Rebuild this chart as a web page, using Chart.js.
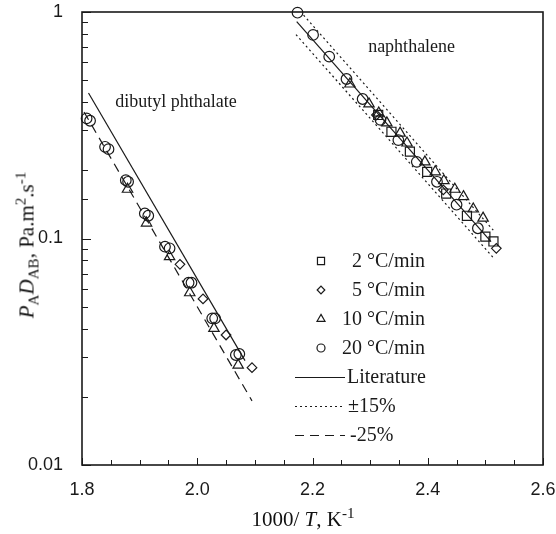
<!DOCTYPE html>
<html><head><meta charset="utf-8">
<script src="https://cdn.jsdelivr.net/npm/chart.js@4/dist/chart.umd.min.js"></script>
<style>
html,body{margin:0;padding:0;background:#fff;}
#wrap{position:relative;width:556px;height:534px;overflow:hidden;}
canvas{position:absolute;left:0;top:0;}
.t{position:absolute;font-family:"Liberation Serif","Times New Roman",serif;color:#111;font-size:21px;white-space:nowrap;line-height:1;}
.t sub{font-size:0.72em;position:relative;top:0.3em;vertical-align:baseline;}
.t sup{font-size:0.72em;position:relative;top:-0.5em;vertical-align:baseline;}
#xt{left:303px;top:519px;transform:translate(-50%,-50%);}
#yt{left:27px;top:245px;transform:translate(-50%,-50%) rotate(-90deg);}
</style></head><body>
<div id="wrap">
<canvas id="c" width="556" height="534"></canvas>
<div class="t" id="xt">1000/ <i>T</i>, K<sup>-1</sup></div>
<div class="t" id="yt"><i>P</i><sub>A</sub><i>D</i><sub>AB</sub>, Pa.m<sup>2</sup>.s<sup>-1</sup></div>
</div>
<script>
// ---- tick labels & text ----
const xTickLabels = ['1.8','2.0','2.2','2.4','2.6'];
const yTickLabels = ['0.01','0.1','1'];
const legendLabels = ['2 °C/min','5 °C/min','10 °C/min','20 °C/min','Literature','±15%','-25%'];
const compoundLabels = ['naphthalene','dibutyl phthalate'];
const compoundLabelX = [2.372, 1.963];
const compoundLabelY = [0.70, 0.40];

// ---- naphthalene data ----
const naph2X  = [2.314,2.337,2.369,2.399,2.432,2.468,2.500,2.514];
const naph2Y  = [0.351,0.296,0.242,0.197,0.158,0.126,0.102,0.097];
const naph5X  = [2.311,2.427,2.519];
const naph5Y  = [0.351,0.164,0.0905];
const naph10X = [2.265,2.298,2.315,2.329,2.352,2.364,2.395,2.413,2.428,2.447,2.462,2.479,2.496];
const naph10Y = [0.481,0.393,0.358,0.324,0.292,0.264,0.218,0.197,0.180,0.165,0.153,0.135,0.123];
const naph20X = [2.174,2.201,2.229,2.259,2.287,2.318,2.349,2.381,2.416,2.450,2.487];
const naph20Y = [0.993,0.792,0.635,0.506,0.413,0.334,0.272,0.218,0.178,0.141,0.111];

// ---- dibutyl phthalate data ----
const dbp5X  = [1.970,2.010,2.050,2.095];
const dbp5Y  = [0.0769,0.0541,0.0375,0.0269];
const dbp10X = [1.879,1.912,1.952,1.987,2.029,2.071];
const dbp10Y = [0.165,0.117,0.0831,0.0576,0.0401,0.0276];
const dbp20X = [1.808,1.814,1.840,1.846,1.876,1.880,1.909,1.915,1.944,1.952,1.985,1.990,2.026,2.031,2.067,2.073];
const dbp20Y = [0.339,0.331,0.254,0.248,0.181,0.178,0.129,0.126,0.092,0.0905,0.0638,0.0638,0.0444,0.0444,0.0306,0.0309];

// ---- lines ----
const litNaphX = [2.1726, 2.5098];  const litNaphY = [0.906, 0.0969];
const litDbpX  = [1.8113, 2.0829];  const litDbpY  = [0.439, 0.0289];
const upNaphX  = [2.1845, 2.5137];  const upNaphY  = [0.969, 0.1088];
const loNaphX  = [2.1714, 2.5155];  const loNaphY  = [0.795, 0.0814];
const dashDbpX = [1.8035, 2.0950];  const dashDbpY = [0.362, 0.0192];

const xy = (xs, ys) => xs.map((x, i) => ({x: x, y: ys[i]}));
const INK = '#1a1a1a';

function pts(label, data, style, r){
  return {type:'scatter', label, data, pointStyle:style, pointRadius:r, pointHoverRadius:r,
    pointBorderColor:INK, pointBackgroundColor:'rgba(0,0,0,0)', pointBorderWidth:1.2,
    showLine:false, clip:10};
}
function ln(label, data, dash){
  return {type:'line', label, data, borderColor:INK, borderWidth:1.2, borderDash:dash,
    pointRadius:0, showLine:true, fill:false, tension:0};
}

const datasets = [
  pts(legendLabels[0], xy(naph2X, naph2Y), 'rect', 6.4),
  pts(legendLabels[1], xy(naph5X, naph5Y).concat(xy(dbp5X, dbp5Y)), 'rectRot', 4.8),
  pts(legendLabels[2], xy(naph10X, naph10Y).concat(xy(dbp10X, dbp10Y)), 'triangle', 6),
  pts(legendLabels[3], xy(naph20X, naph20Y).concat(xy(dbp20X, dbp20Y)), 'circle', 5.3),
  ln(legendLabels[4], xy(litNaphX, litNaphY), []),
  ln(legendLabels[4], xy(litDbpX, litDbpY), []),
  ln(legendLabels[5], xy(upNaphX, upNaphY), [2,3]),
  ln(legendLabels[5], xy(loNaphX, loNaphY), [2,3]),
  ln(legendLabels[6], xy(dashDbpX, dashDbpY), [9,6])
];

const isMajorX = v => Math.abs(v*5 - Math.round(v*5)) < 1e-6;
const isMajorY = v => Math.abs(Math.log10(v) - Math.round(Math.log10(v))) < 1e-6;

const decor = {
  id:'decor',
  afterDraw(chart){
    const {ctx, chartArea:a, scales:{x, y}} = chart;
    ctx.save();
    ctx.strokeStyle = INK; ctx.lineWidth = 1;
    ctx.beginPath();
    x.ticks.forEach(t => {
      const px = Math.round(x.getPixelForValue(t.value)) + 0.5;
      const len = isMajorX(t.value) ? 7 : 5;
      ctx.moveTo(px, a.bottom); ctx.lineTo(px, a.bottom - len);
    });
    y.ticks.forEach(t => {
      const py = Math.round(y.getPixelForValue(t.value)) + 0.5;
      const len = isMajorY(t.value) ? 9 : 6;
      ctx.moveTo(a.left, py); ctx.lineTo(a.left + len, py);
    });
    ctx.stroke();
    ctx.lineWidth = 1.6;
    ctx.strokeRect(a.left, a.top, a.right - a.left, a.bottom - a.top);

    // compound annotations
    ctx.fillStyle = INK;
    ctx.font = '18px "Liberation Serif", serif';
    ctx.textAlign = 'center'; ctx.textBaseline = 'middle';
    compoundLabels.forEach((s, i) => {
      ctx.fillText(s, x.getPixelForValue(compoundLabelX[i]), y.getPixelForValue(compoundLabelY[i]));
    });

    // legend
    const rowY0 = 261, rowDY = 29, markX = 321, lineX0 = 295, lineX1 = 345;
    const textX = [352, 352, 342, 342, 347, 348, 350];
    const legRadius = [5, 3.8, 4.6, 4];
    ctx.font = '20px "Liberation Serif", serif';
    ctx.textAlign = 'left';
    const firstIdx = [0,1,2,3,4,6,8];
    legendLabels.forEach((lab, i) => {
      const ry = rowY0 + i*rowDY;
      const ds = datasets[firstIdx[i]];
      if (i < 4) {
        ctx.save();
        ctx.strokeStyle = INK; ctx.fillStyle = 'rgba(0,0,0,0)'; ctx.lineWidth = 1.2;
        Chart.helpers.drawPoint(ctx, {pointStyle: ds.pointStyle, radius: legRadius[i], rotation: 0, borderWidth: 1.2}, markX, ry);
        ctx.restore();
      } else {
        ctx.save();
        ctx.strokeStyle = INK; ctx.lineWidth = 1.2; ctx.setLineDash(ds.borderDash);
        ctx.beginPath(); ctx.moveTo(lineX0, ry + 0.5); ctx.lineTo(lineX1, ry + 0.5); ctx.stroke();
        ctx.restore();
      }
      ctx.fillStyle = INK;
      ctx.fillText(lab, textX[i], ry + 1);
    });
    ctx.restore();
  }
};

Chart.defaults.font.family = '"Liberation Sans", Arial, sans-serif';
Chart.defaults.color = INK;

new Chart(document.getElementById('c'), {
  type: 'scatter',
  data: { datasets },
  options: {
    responsive: false, animation: false, devicePixelRatio: 1,
    layout: { padding: { left: 0, right: 13, top: 12, bottom: 0 } },
    plugins: { legend: { display: false }, tooltip: { enabled: false } },
    scales: {
      x: {
        type: 'linear', min: 1.8, max: 2.6,
        grid: { display: false }, border: { display: false },
        ticks: {
          stepSize: 0.05, autoSkip: false, maxRotation: 0, padding: 6,
          font: { size: 18 },
          callback: v => isMajorX(v) ? xTickLabels[Math.round((v - 1.8) / 0.2)] : ''
        },
        afterFit: s => { s.height = 69; s.paddingLeft = 0; s.paddingRight = 0; }
      },
      y: {
        type: 'logarithmic', min: 0.01, max: 1,
        grid: { display: false }, border: { display: false },
        ticks: {
          autoSkip: false, padding: 11,
          font: { size: 18 },
          callback: v => isMajorY(v) ? yTickLabels[Math.round(Math.log10(v)) + 2] : ''
        },
        afterFit: s => { s.width = 82; s.paddingTop = 0; s.paddingBottom = 0; }
      }
    }
  },
  plugins: [decor]
});
</script>
</body></html>
